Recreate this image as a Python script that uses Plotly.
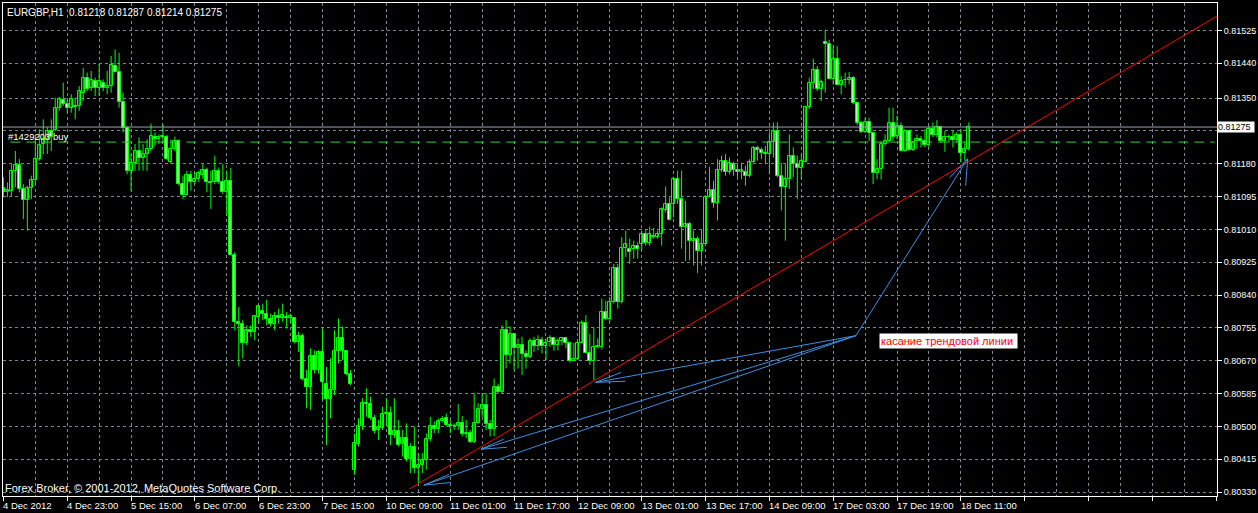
import plotly.graph_objects as go

# ---------------- data (EURGBP H1, bar index 0 = 4 Dec 2012 07:00) ----------------
open_ = [0.81117,0.81107,0.81110,0.81162,0.81177,0.81114,0.81086,0.81117,0.81138,0.81192,
0.81231,0.81241,0.81265,0.81268,0.81323,0.81345,0.81334,0.81323,0.81330,0.81329,
0.81364,0.81401,0.81375,0.81394,0.81377,0.81390,0.81377,0.81381,0.81433,0.81417,
0.81341,0.81272,0.81160,0.81181,0.81213,0.81194,0.81205,0.81218,0.81248,0.81243,
0.81248,0.81248,0.81185,0.81218,0.81238,0.81127,0.81098,0.81152,0.81132,0.81140,
0.81152,0.81164,0.81132,0.81132,0.81162,0.81134,0.81106,0.81136,0.80944,0.80771,
0.80765,0.80715,0.80749,0.80745,0.80783,0.80799,0.80792,0.80779,0.80766,0.80785,
0.80782,0.80783,0.80782,0.80782,0.80719,0.80734,0.80622,0.80603,0.80682,0.80646,
0.80693,0.80611,0.80570,0.80594,0.80696,0.80730,0.80696,0.80637,0.80388,0.80455,
0.80500,0.80560,0.80558,0.80521,0.80491,0.80495,0.80532,0.80534,0.80478,0.80488,
0.80455,0.80471,0.80415,0.80448,0.80392,0.80401,0.80412,0.80467,0.80500,0.80493,
0.80513,0.80521,0.80504,0.80500,0.80500,0.80510,0.80481,0.80482,0.80461,0.80510,
0.80544,0.80555,0.80507,0.80493,0.80601,0.80590,0.80749,0.80685,0.80739,0.80702,
0.80710,0.80687,0.80680,0.80721,0.80708,0.80723,0.80708,0.80719,0.80730,0.80712,
0.80722,0.80728,0.80715,0.80670,0.80674,0.80716,0.80768,0.80691,0.80670,0.80706,
0.80706,0.80796,0.80777,0.80822,0.80911,0.80822,0.80962,0.80960,0.80960,0.80968,
0.80971,0.80997,0.80974,0.80993,0.80990,0.80997,0.81059,0.81076,0.81076,0.81140,
0.81089,0.81016,0.81023,0.80981,0.80986,0.80955,0.80973,0.81095,0.81112,0.81078,
0.81164,0.81188,0.81159,0.81179,0.81164,0.81158,0.81159,0.81149,0.81185,0.81221,
0.81216,0.81209,0.81205,0.81237,0.81265,0.81149,0.81119,0.81140,0.81201,0.81179,
0.81168,0.81185,0.81328,0.81388,0.81422,0.81373,0.81495,0.81491,0.81400,0.81452,
0.81385,0.81397,0.81398,0.81401,0.81336,0.81285,0.81262,0.81287,0.81259,0.81156,
0.81166,0.81231,0.81238,0.81285,0.81252,0.81278,0.81213,0.81265,0.81216,0.81239,
0.81243,0.81239,0.81228,0.81271,0.81255,0.81274,0.81239,0.81250,0.81248,0.81241,
0.81254,0.81207,0.81218]

high = [0.81145,0.81132,0.81179,0.81213,0.81192,0.81127,0.81123,0.81149,0.81248,0.81269,
0.81295,0.81274,0.81295,0.81351,0.81353,0.81390,0.81351,0.81360,0.81351,0.81381,
0.81428,0.81416,0.81420,0.81403,0.81439,0.81398,0.81420,0.81459,0.81476,0.81467,
0.81364,0.81278,0.81205,0.81231,0.81248,0.81231,0.81243,0.81284,0.81261,0.81256,
0.81282,0.81255,0.81243,0.81250,0.81243,0.81149,0.81162,0.81162,0.81158,0.81162,
0.81179,0.81170,0.81162,0.81201,0.81170,0.81179,0.81162,0.81169,0.80951,0.80809,
0.80775,0.80762,0.80762,0.80788,0.80814,0.80818,0.80828,0.80792,0.80796,0.80805,
0.80818,0.80796,0.80792,0.80783,0.80745,0.80740,0.80646,0.80702,0.80697,0.80697,
0.80753,0.80654,0.80676,0.80749,0.80779,0.80758,0.80697,0.80646,0.80482,0.80521,
0.80573,0.80599,0.80577,0.80530,0.80517,0.80551,0.80573,0.80551,0.80573,0.80517,
0.80491,0.80508,0.80457,0.80500,0.80431,0.80431,0.80482,0.80525,0.80513,0.80521,
0.80527,0.80534,0.80517,0.80508,0.80558,0.80527,0.80517,0.80491,0.80586,0.80560,
0.80586,0.80586,0.80517,0.80624,0.80611,0.80762,0.80775,0.80759,0.80740,0.80728,
0.80732,0.80697,0.80728,0.80732,0.80736,0.80732,0.80728,0.80736,0.80732,0.80728,
0.80732,0.80732,0.80719,0.80716,0.80719,0.80775,0.80788,0.80740,0.80756,0.80728,
0.80831,0.80826,0.80831,0.80921,0.80921,0.80990,0.81007,0.80986,0.80981,0.80977,
0.81007,0.81011,0.81017,0.81014,0.81007,0.81067,0.81121,0.81093,0.81146,0.81162,
0.81162,0.81084,0.81029,0.81007,0.80992,0.81009,0.81097,0.81172,0.81136,0.81192,
0.81201,0.81205,0.81196,0.81185,0.81179,0.81182,0.81175,0.81192,0.81226,0.81226,
0.81222,0.81226,0.81261,0.81287,0.81287,0.81183,0.81179,0.81256,0.81222,0.81201,
0.81205,0.81330,0.81403,0.81452,0.81433,0.81398,0.81527,0.81501,0.81484,0.81484,
0.81407,0.81416,0.81417,0.81407,0.81340,0.81291,0.81299,0.81299,0.81261,0.81192,
0.81239,0.81256,0.81325,0.81325,0.81304,0.81287,0.81269,0.81268,0.81239,0.81256,
0.81252,0.81269,0.81278,0.81287,0.81293,0.81278,0.81265,0.81256,0.81268,0.81262,
0.81269,0.81239,0.81287]

low = [0.81093,0.81093,0.81096,0.81119,0.81106,0.81037,0.81007,0.81089,0.81127,0.81188,
0.81205,0.81205,0.81213,0.81265,0.81317,0.81330,0.81312,0.81312,0.81295,0.81317,
0.81342,0.81368,0.81368,0.81355,0.81355,0.81368,0.81360,0.81364,0.81416,0.81325,
0.81261,0.81153,0.81110,0.81162,0.81162,0.81162,0.81162,0.81213,0.81226,0.81231,
0.81235,0.81189,0.81179,0.81213,0.81123,0.81089,0.81097,0.81110,0.81127,0.81132,
0.81140,0.81106,0.81063,0.81127,0.81127,0.81102,0.81046,0.80943,0.80749,0.80656,
0.80676,0.80710,0.80732,0.80723,0.80766,0.80775,0.80762,0.80758,0.80749,0.80766,
0.80771,0.80753,0.80768,0.80715,0.80693,0.80620,0.80547,0.80543,0.80637,0.80637,
0.80568,0.80452,0.80521,0.80581,0.80663,0.80672,0.80633,0.80607,0.80375,0.80448,
0.80491,0.80525,0.80517,0.80482,0.80465,0.80491,0.80500,0.80452,0.80470,0.80448,
0.80422,0.80409,0.80379,0.80379,0.80353,0.80379,0.80388,0.80461,0.80482,0.80482,
0.80510,0.80500,0.80482,0.80491,0.80491,0.80474,0.80470,0.80457,0.80457,0.80508,
0.80525,0.80491,0.80474,0.80474,0.80586,0.80586,0.80650,0.80663,0.80646,0.80650,
0.80633,0.80650,0.80676,0.80693,0.80697,0.80689,0.80672,0.80706,0.80696,0.80697,
0.80710,0.80702,0.80665,0.80670,0.80672,0.80715,0.80689,0.80659,0.80620,0.80702,
0.80699,0.80775,0.80771,0.80818,0.80805,0.80818,0.80938,0.80921,0.80934,0.80934,
0.80955,0.80968,0.80968,0.80986,0.80986,0.80968,0.81054,0.81033,0.81041,0.81076,
0.80960,0.80928,0.80930,0.80917,0.80897,0.80917,0.80968,0.81093,0.81066,0.81033,
0.81158,0.81149,0.81153,0.81149,0.81145,0.81140,0.81123,0.81145,0.81183,0.81188,
0.81192,0.81179,0.81153,0.81196,0.81145,0.81059,0.80981,0.81115,0.81145,0.81089,
0.81140,0.81183,0.81321,0.81373,0.81368,0.81342,0.81364,0.81398,0.81385,0.81383,
0.81360,0.81377,0.81385,0.81334,0.81280,0.81259,0.81259,0.81239,0.81127,0.81140,
0.81139,0.81226,0.81235,0.81239,0.81243,0.81211,0.81211,0.81213,0.81213,0.81218,
0.81222,0.81222,0.81222,0.81248,0.81248,0.81235,0.81211,0.81235,0.81222,0.81235,
0.81183,0.81188,0.81214]

close = [0.81107,0.81112,0.81162,0.81177,0.81114,0.81086,0.81117,0.81138,0.81192,0.81228,
0.81243,0.81265,0.81250,0.81323,0.81347,0.81334,0.81323,0.81347,0.81327,0.81368,
0.81401,0.81373,0.81396,0.81377,0.81394,0.81377,0.81381,0.81435,0.81418,0.81341,
0.81272,0.81160,0.81181,0.81213,0.81194,0.81205,0.81218,0.81252,0.81243,0.81248,
0.81252,0.81192,0.81218,0.81239,0.81127,0.81100,0.81152,0.81132,0.81140,0.81155,
0.81164,0.81132,0.81129,0.81162,0.81134,0.81106,0.81136,0.80944,0.80771,0.80765,
0.80715,0.80749,0.80745,0.80785,0.80811,0.80792,0.80779,0.80766,0.80785,0.80782,
0.80788,0.80781,0.80785,0.80719,0.80734,0.80622,0.80603,0.80682,0.80646,0.80693,
0.80616,0.80570,0.80594,0.80696,0.80730,0.80696,0.80637,0.80611,0.80457,0.80500,
0.80560,0.80558,0.80521,0.80487,0.80498,0.80532,0.80536,0.80478,0.80488,0.80452,
0.80471,0.80415,0.80448,0.80392,0.80401,0.80412,0.80467,0.80501,0.80493,0.80513,
0.80519,0.80504,0.80500,0.80501,0.80510,0.80481,0.80482,0.80461,0.80510,0.80544,
0.80556,0.80507,0.80493,0.80601,0.80590,0.80749,0.80685,0.80739,0.80702,0.80710,
0.80687,0.80680,0.80721,0.80708,0.80723,0.80708,0.80716,0.80730,0.80712,0.80722,
0.80728,0.80715,0.80670,0.80674,0.80716,0.80768,0.80691,0.80670,0.80706,0.80708,
0.80796,0.80777,0.80822,0.80911,0.80822,0.80962,0.80973,0.80951,0.80968,0.80960,
0.80997,0.80974,0.80997,0.80990,0.80997,0.81063,0.81076,0.81035,0.81140,0.81089,
0.81016,0.81023,0.80981,0.80986,0.80955,0.80973,0.81095,0.81112,0.81078,0.81164,
0.81188,0.81159,0.81182,0.81164,0.81158,0.81164,0.81149,0.81185,0.81221,0.81216,
0.81209,0.81205,0.81237,0.81265,0.81149,0.81119,0.81140,0.81201,0.81179,0.81168,
0.81186,0.81328,0.81388,0.81422,0.81373,0.81391,0.81490,0.81400,0.81452,0.81385,
0.81394,0.81398,0.81402,0.81336,0.81285,0.81261,0.81287,0.81259,0.81156,0.81166,
0.81231,0.81238,0.81285,0.81250,0.81278,0.81213,0.81265,0.81216,0.81235,0.81243,
0.81239,0.81228,0.81271,0.81255,0.81274,0.81239,0.81250,0.81248,0.81241,0.81254,
0.81207,0.81218,0.81275]

x_tick_index = [0, 16, 32, 48, 64, 80, 96, 112, 128, 144, 160, 176, 192, 208, 224, 240]
x_tick_labels = ["4 Dec 2012", "4 Dec 23:00", "5 Dec 15:00", "6 Dec 07:00", "6 Dec 23:00",
                 "7 Dec 15:00", "10 Dec 09:00", "11 Dec 01:00", "11 Dec 17:00", "12 Dec 09:00",
                 "13 Dec 01:00", "13 Dec 17:00", "14 Dec 09:00", "17 Dec 03:00", "17 Dec 19:00",
                 "18 Dec 11:00"]
# price grid levels; the 0.81265 label is hidden under the bid-price box
y_grid_levels = [0.81525, 0.81440, 0.81350, 0.81265, 0.81180, 0.81095, 0.81010,
                 0.80925, 0.80840, 0.80755, 0.80670, 0.80585, 0.80500, 0.80415, 0.80330]
y_tick_labels = ["0.81525", "0.81440", "0.81350", "", "0.81180", "0.81095", "0.81010",
                 "0.80925", "0.80840", "0.80755", "0.80670", "0.80585", "0.80500", "0.80415",
                 "0.80330"]

title_text = "EURGBP,H1  0.81218 0.81287 0.81214 0.81275"
copyright_text = "Forex Broker, © 2001-2012, MetaQuotes Software Corp."
bid_price = 0.81275
order_price = 0.81236
order_label = "#1429203 buy"
note_text = "касание трендовой линии"
note_bar, note_price = 219.4, 0.80722

# trend line anchors (bar index, price)
trend_bars = [101.7, 304.2]
trend_prices = [0.80338, 0.81562]

# hand-drawn arrows: common tail, tips and two barbs per tip (bar index, price)
arrow_tail = (213.7, 0.80735)
arrow_tips = [(148.4, 0.80614), (119.7, 0.80441), (105.4, 0.80348), (241.7, 0.81193)]
arrow_barbs = [[(154.9, 0.80640), (155.9, 0.80617)],
               [(125.4, 0.80467), (126.2, 0.80446)],
               [(111.7, 0.80376), (112.2, 0.80355)],
               [(237.2, 0.81144), (241.2, 0.81123)]]

# ---------------- build figure ----------------
GREEN = "#00FF00"
GRID = "#778899"
FONT = "Tahoma, 'Liberation Sans', Arial, sans-serif"
n = len(close)
idx = list(range(n))

wick_x, wick_y = [], []
for i in idx:
    wick_x += [i, i, None]
    wick_y += [low[i], high[i], None]

bull_x, bull_base, bull_h = [], [], []
bear_x, bear_base, bear_h = [], [], []
for i in idx:
    lo, hi = min(open_[i], close[i]), max(open_[i], close[i])
    h = max(hi - lo, 0.000004)
    if close[i] >= open_[i]:
        bull_x.append(i); bull_base.append(lo); bull_h.append(h)
    else:
        bear_x.append(i); bear_base.append(lo); bear_h.append(h)

fig = go.Figure()
fig.add_trace(go.Scatter(x=wick_x, y=wick_y, mode="lines",
                         line=dict(color=GREEN, width=1), hoverinfo="skip"))
fig.add_trace(go.Bar(x=bull_x, y=bull_h, base=bull_base, width=0.75,
                     marker=dict(color="black", line=dict(color=GREEN, width=1))))
fig.add_trace(go.Bar(x=bear_x, y=bear_h, base=bear_base, width=0.75,
                     marker=dict(color="white", line=dict(color=GREEN, width=1))))

# trend line
fig.add_trace(go.Scatter(x=trend_bars, y=trend_prices, mode="lines",
                         line=dict(color="#FF0000", width=1), hoverinfo="skip"))

# arrows
ax_, ay_ = [], []
for tip, barbs in zip(arrow_tips, arrow_barbs):
    ax_ += [arrow_tail[0], tip[0], None]
    ay_ += [arrow_tail[1], tip[1], None]
    for b in barbs:
        ax_ += [tip[0], b[0], None]
        ay_ += [tip[1], b[1], None]
fig.add_trace(go.Scatter(x=ax_, y=ay_, mode="lines",
                         line=dict(color="#3d8fe0", width=1), hoverinfo="skip"))

# bid line and order line
fig.add_shape(type="line", xref="paper", x0=0, x1=1, yref="y", y0=bid_price, y1=bid_price,
              line=dict(color="#9aa4b0", width=1))
fig.add_shape(type="line", xref="paper", x0=0.006, x1=0.998, yref="y", y0=order_price, y1=order_price,
              line=dict(color="#32CD32", width=1, dash="10px,6px"))

ann = []
ann.append(dict(text=title_text, xref="paper", yref="paper", x=0, y=1, xanchor="left", yanchor="top",
                xshift=2, yshift=-2, showarrow=False, font=dict(family=FONT, size=10, color="white")))
ann.append(dict(text=copyright_text, xref="paper", yref="paper", x=0, y=0, xanchor="left",
                yanchor="bottom", xshift=0, yshift=0, showarrow=False,
                font=dict(family=FONT, size=11, color="white")))
ann.append(dict(text=order_label, xref="paper", yref="y", x=0, y=order_price, xanchor="left",
                yanchor="bottom", xshift=3, yshift=-2, showarrow=False,
                font=dict(family=FONT, size=9.5, color="white")))
ann.append(dict(text=str(bid_price), xref="paper", yref="y", x=1, y=bid_price, xanchor="left",
                yanchor="middle", xshift=0, showarrow=False, bgcolor="white", width=36, align="left",
                borderpad=0, font=dict(family=FONT, size=9, color="black")))
ann.append(dict(text=note_text, xref="x", yref="y", x=note_bar, y=note_price, xanchor="left",
                yanchor="middle", showarrow=False, bgcolor="white", width=135, align="left",
                borderpad=1, font=dict(family=FONT, size=11, color="#FF0000")))
for xi, lab in zip(x_tick_index, x_tick_labels):
    ann.append(dict(text=lab, xref="x", yref="paper", x=xi, y=0, xanchor="left", yanchor="middle",
                    xshift=-2, yshift=-9, showarrow=False,
                    font=dict(family=FONT, size=9.5, color="white")))

fig.update_layout(
    width=1258, height=513,
    margin=dict(l=3, r=38, t=2, b=17),
    paper_bgcolor="black", plot_bgcolor="black",
    showlegend=False, barmode="overlay", bargap=0,
    font=dict(family=FONT, size=9.5, color="white"),
    annotations=ann,
    xaxis=dict(range=[-0.1, 304.2], tick0=0, dtick=16, ticks="outside", ticklen=4,
               tickcolor="white", showticklabels=False, showgrid=True, gridcolor=GRID,
               griddash="3px,3px", gridwidth=1, zeroline=False, showline=True,
               linecolor="white", linewidth=1, mirror=True,
               minor=dict(dtick=8, tick0=0, showgrid=True, gridcolor=GRID,
                          griddash="3px,3px", gridwidth=1, ticks="")),
    yaxis=dict(range=[0.80320, 0.81596], side="right",
               tickvals=y_grid_levels, ticktext=y_tick_labels,
               ticks="outside", ticklen=4, tickcolor="white", ticklabelstandoff=0,
               tickfont=dict(family=FONT, size=9, color="white"),
               showgrid=True, gridcolor=GRID, griddash="3px,3px", gridwidth=1,
               zeroline=False, showline=True, linecolor="white", linewidth=1, mirror=True),
)

fig.write_html("out.html", config={"displayModeBar": False},
               post_script="document.body.style.margin='0';document.body.style.overflow='hidden';")
